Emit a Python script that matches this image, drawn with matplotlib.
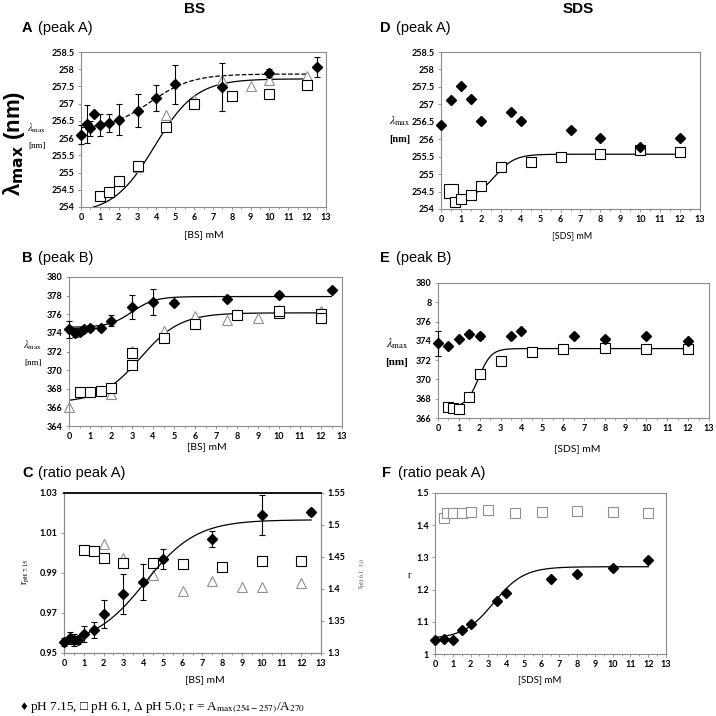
import matplotlib.pyplot as plt
import numpy as np

plt.rcParams['font.family'] = ['Liberation Sans', 'DejaVu Sans']
plt.rcParams['mathtext.fontset'] = 'stix'

# A: BS, peak A
a_xd = [0, 0.3, 0.5, 0.7, 1, 1.5, 2, 3, 4, 5, 7.5, 10, 12.5]
a_yd = [256.1, 256.4, 256.28, 256.7, 256.38, 256.44, 256.54, 256.8, 257.17, 257.56, 257.48, 257.88, 258.07]
a_ed = [0.27, 0.55, 0.23, 0, 0.33, 0.27, 0.45, 0.48, 0.37, 0.57, 0.69, 0.12, 0.29]
a_xs = [1, 1.5, 2, 3, 4.5, 6, 8, 10, 12]
a_ys = [254.31, 254.45, 254.76, 255.19, 256.31, 256.99, 257.23, 257.29, 257.54]
a_xt = [2, 3, 4.5, 6, 7.5, 9, 10, 12]
a_yt = [254.76, 255.15, 256.67, 257.12, 257.69, 257.51, 257.69, 257.8]
a_fit_d = [256.25, 257.86, 3.7, 1.1]
a_fit_s = [253.8, 257.72, 3.9, 1.1]

# B: BS, peak B
b_xd = [0, 0.3, 0.5, 0.7, 1, 1.5, 2, 3, 4, 5, 7.5, 10, 12.5]
b_yd = [374.4, 374.04, 374.11, 374.43, 374.57, 374.57, 375.3, 376.8, 377.3, 377.25, 377.68, 378.11, 378.6]
b_ed = [0.9, 0.5, 0.3, 0.3, 0.3, 0.3, 0.6, 1.3, 1.4, 0.3, 0.3, 0.3, 0]
b_xs = [0.5, 1, 1.5, 2, 3, 3, 4.5, 6, 8, 10, 10, 12, 12]
b_ys = [367.7, 367.7, 367.75, 368.1, 370.5, 371.8, 373.4, 375.0, 375.9, 376.1, 376.4, 376.0, 375.6]
b_xt = [0, 2, 3, 4.5, 6, 7.5, 9, 10, 12]
b_yt = [366.0, 367.4, 372.1, 374.2, 375.8, 375.4, 375.6, 376.5, 376.4]
b_fit_d = [374.6, 377.9, 3.0, 0.55]
b_fit_s = [366.5, 376.15, 3.4, 0.95]

# C: BS, ratio peak A
c_xd = [0, 0.3, 0.5, 0.7, 1, 1.5, 2, 3, 4, 5, 7.5, 10, 12.5]
c_yd = [0.9555, 0.9577, 0.9567, 0.9563, 0.9595, 0.9617, 0.9693, 0.9797, 0.9855, 0.9968, 1.0068, 1.019, 1.0205]
c_ed = [0.002, 0.003, 0.003, 0.002, 0.004, 0.004, 0.007, 0.01, 0.0088, 0.005, 0.004, 0.01, 0.0013]
c_xs = [1, 1.5, 2, 3, 4.5, 6, 8, 10, 12]
c_ys = [1.4604, 1.459, 1.449, 1.4406, 1.441, 1.4385, 1.4344, 1.4432, 1.4432]
c_xt = [2, 3, 4.5, 6, 7.5, 9, 10, 12]
c_yt = [1.4698, 1.4484, 1.4214, 1.3964, 1.4125, 1.4031, 1.4031, 1.41]
c_fit_d = [0.954, 1.0166, 4.1, 1.3]

# D: SDS, peak A
d_xd = [0, 0.5, 1, 1.5, 2, 3.5, 4, 6.5, 8, 10, 12]
d_yd = [256.42, 257.13, 257.52, 257.15, 256.51, 256.78, 256.51, 256.27, 256.03, 255.77, 256.03]
d_xs = [0.5, 0.7, 1, 1.5, 2, 3, 4.5, 6, 8, 10, 12]
d_ys = [254.52, 254.21, 254.3, 254.4, 254.65, 255.2, 255.36, 255.49, 255.59, 255.69, 255.63]
d_fit_s = [254.3, 255.57, 2.7, 0.5]

# E: SDS, peak B
e_xd = [0, 0.5, 1, 1.5, 2, 3.5, 4, 6.5, 8, 10, 12]
e_yd = [373.74, 373.5, 374.2, 374.7, 374.5, 374.5, 375.0, 374.5, 374.2, 374.5, 374.0]
e_ed = [1.3, 0, 0, 0.3, 0.35, 0, 0, 0, 0, 0, 0]
e_xs = [0.5, 0.7, 1, 1.5, 2, 3, 4.5, 6, 8, 10, 12]
e_ys = [367.1, 367.0, 366.9, 368.2, 370.6, 371.9, 372.8, 373.2, 373.3, 373.2, 373.2]
e_fit_s = [367.1, 373.2, 1.95, 0.3]

# F: SDS, ratio peak A
f_xd = [0, 0.5, 1, 1.5, 2, 3.5, 4, 6.5, 8, 10, 12]
f_yd = [1.0445, 1.0466, 1.0435, 1.0745, 1.0932, 1.1636, 1.1894, 1.2319, 1.2495, 1.2681, 1.2919]
f_xs = [0.5, 0.7, 1, 1.5, 2, 3, 4.5, 6, 8, 10, 12]
f_ys = [1.4224, 1.4379, 1.439, 1.4369, 1.44, 1.4472, 1.4369, 1.442, 1.4441, 1.442, 1.4379]
f_fit_d = [1.047, 1.271, 3.3, 0.85]

W = 716.0
GRAY = '#8a8a8a'
TICKFONT = ['Lato', 'DejaVu Sans']
SERIF = ['Liberation Serif', 'DejaVu Serif']


def px(x, y):
    return x / W, 1 - y / W


def box(l, t, r, b):
    return [l / W, 1 - b / W, (r - l) / W, (b - t) / W]


def boltz(p, x0, x1):
    x = np.linspace(x0, x1, 300)
    return x, p[1] + (p[0] - p[1]) / (1 + np.exp((x - p[2]) / p[3]))


def setup(ax, ylim, yticks, ylabels):
    ax.set_xlim(0, 13)
    ax.set_ylim(*ylim)
    ax.set_xticks(range(14), labels=[str(i) for i in range(14)], fontsize=6.5,
                  fontweight='bold', family=TICKFONT)
    ax.set_xticks(np.arange(0.5, 13, 1), minor=True)
    ax.set_yticks(yticks, labels=ylabels, fontsize=6.5, fontweight='bold', family=TICKFONT)
    for s in ax.spines.values():
        s.set_color(GRAY)
        s.set_linewidth(0.8)
    ax.tick_params(which='both', color=GRAY, pad=2, length=2.5, width=0.6)
    ax.tick_params(which='minor', length=1.5)


def diamonds(ax, x, y, err=None):
    if err is not None:
        ax.errorbar(x, y, yerr=err, fmt='none', ecolor='black', elinewidth=0.8,
                    capsize=2, capthick=0.8, clip_on=False, zorder=4)
    ax.plot(x, y, 'D', color='black', ms=5.2, clip_on=False, zorder=5)


def squares(ax, x, y, color='black', ms=6.8):
    ax.plot(x, y, 's', mfc='white', mec=color, mew=0.8, ms=ms, clip_on=False, zorder=3)


def triangles(ax, x, y):
    ax.plot(x, y, '^', mfc='white', mec='#909090', mew=0.8, ms=6.8, clip_on=False, zorder=2)


fig = plt.figure(figsize=(7.16, 7.16), dpi=100)

# A
ax = fig.add_axes(box(81, 52, 326, 207))
setup(ax, (254, 258.5), np.arange(254, 258.51, 0.5),
      ['254', '254.5', '255', '255.5', '256', '256.5', '257', '257.5', '258', '258.5'])
ax.plot(*boltz(a_fit_d, 0, 12), '--', color='black', lw=0.9, zorder=1)
ax.plot(*boltz(a_fit_s, 0, 12), '-', color='black', lw=0.9, zorder=1)
triangles(ax, a_xt, a_yt)
squares(ax, a_xs, a_ys)
diamonds(ax, a_xd, a_yd, a_ed)

# B
ax = fig.add_axes(box(69, 277, 342, 426))
setup(ax, (364, 380), range(364, 381, 2), [str(v) for v in range(364, 381, 2)])
ax.plot(*boltz(b_fit_d, 0, 12.5), '-', color='black', lw=0.9, zorder=1)
ax.plot(*boltz(b_fit_s, 0, 12), '-', color='black', lw=0.9, zorder=1)
triangles(ax, b_xt, b_yt)
squares(ax, b_xs, b_ys)
diamonds(ax, b_xd, b_yd, b_ed)

# C
ax = fig.add_axes(box(64, 493, 321, 653))
setup(ax, (0.95, 1.03), np.arange(0.95, 1.031, 0.02), ['0.95', '0.97', '0.99', '1.01', '1.03'])
ax.spines['top'].set_color('black')
ax.spines['top'].set_linewidth(1.3)
ax2 = ax.twinx()
ax2.set_ylim(1.3, 1.55)
ax2.set_yticks(np.arange(1.3, 1.551, 0.05), labels=['1.3', '1.35', '1.4', '1.45', '1.5', '1.55'],
               fontsize=6.5, fontweight='bold', family=TICKFONT)
for s in ['left', 'right', 'bottom']:
    ax2.spines[s].set_color(GRAY)
    ax2.spines[s].set_linewidth(0.8)
ax2.spines['top'].set_visible(False)
ax2.tick_params(color=GRAY, pad=2, length=2.5, width=0.6)
triangles(ax2, c_xt, c_yt)
squares(ax2, c_xs, c_ys)
ax.set_zorder(ax2.get_zorder() + 1)
ax.patch.set_visible(False)
ax.plot(*boltz(c_fit_d, 0, 12.5), '-', color='black', lw=0.9, zorder=1)
diamonds(ax, c_xd, c_yd, c_ed)

# D
ax = fig.add_axes(box(441, 52, 700, 209))
setup(ax, (254, 258.5), np.arange(254, 258.51, 0.5),
      ['254', '254.5', '255', '255.5', '256', '256.5', '257', '257.5', '258', '258.5'])
ax.plot(*boltz(d_fit_s, 0.5, 12), '-', color='black', lw=0.9, zorder=1)
squares(ax, d_xs[:1], d_ys[:1], ms=9.5)
squares(ax, d_xs[1:], d_ys[1:])
diamonds(ax, d_xd, d_yd)

# E
ax = fig.add_axes(box(438, 283, 709, 418))
setup(ax, (366, 380), range(366, 381, 2), ['366', '368', '370', '372', '374', '376', '8', '380'])
ax.plot(*boltz(e_fit_s, 0.9, 12), '-', color='black', lw=0.9, zorder=1)
squares(ax, e_xs, e_ys)
diamonds(ax, e_xd, e_yd, e_ed)

# F
ax = fig.add_axes(box(435, 493, 666, 654))
setup(ax, (1, 1.5), np.arange(1, 1.51, 0.1), ['1', '1.1', '1.2', '1.3', '1.4', '1.5'])
ax.plot(*boltz(f_fit_d, 0, 12), '-', color='black', lw=0.9, zorder=1)
squares(ax, f_xs, f_ys, color='#909090')
diamonds(ax, f_xd, f_yd)

# column titles and panel labels
fig.text(*px(195, 9), 'BS', fontsize=11, fontweight='bold', ha='center', va='center')
fig.text(*px(578, 9), 'SDS', fontsize=11, fontweight='bold', ha='center', va='center')
panels = [('A', '(peak A)', 22, 28), ('D', '(peak A)', 380, 28),
          ('B', '(peak B)', 22, 258), ('E', '(peak B)', 380, 258),
          ('C', '(ratio peak A)', 22, 473), ('F', '(ratio peak A)', 382, 473)]
for letter, name, x, y in panels:
    fig.text(*px(x, y), letter, fontsize=10.5, fontweight='bold', va='center')
    fig.text(*px(x + 16, y), name, fontsize=10.5, va='center')

# x labels
for x, y, t, fs in [(204, 235, '[BS] mM', 7.5), (572, 236, '[SDS] mM', 6.5),
                    (207, 447, '[BS] mM', 7.5), (577, 449, '[SDS] mM', 7.5),
                    (205, 680, '[BS] mM', 7.5), (540, 680, '[SDS] mM', 7)]:
    fig.text(*px(x, y), t, fontsize=fs, ha='center', va='center', family=TICKFONT)

# y labels
fig.text(*px(14, 143), '\u03bb$_{\\mathbf{max}}$ (nm)', fontsize=16, fontweight='bold',
         rotation=90, ha='center', va='center', math_fontfamily='dejavusans')
for x, y, fs, fw in [(37, 137, 6.5, 'normal'), (33, 354, 6.5, 'normal'),
                     (400, 130, 7.5, 'bold'), (397, 353, 8, 'bold')]:
    fig.text(*px(x, y - 9), r'$\lambda_{\rm max}$', fontsize=fs + 1, ha='center', va='center')
    fig.text(*px(x, y + 9), '[nm]', fontsize=fs, fontweight=fw, ha='center', va='center',
             family=SERIF)
fig.text(*px(26, 572), r'r$_{\rm pH\ 7.15}$', fontsize=7, rotation=90, ha='center', va='center',
         family=SERIF)
fig.text(*px(362, 573), r'r$_{\rm pH\ 6.1,\ 5.0}$', fontsize=6, rotation=90, ha='center', va='center',
         family=SERIF, color='#555555')
fig.text(*px(409, 575), 'r', fontsize=7, ha='center', va='center', family=SERIF)

fig.text(*px(20, 708), '\u2666 pH 7.15, \u25a1 pH 6.1, \u0394 pH 5.0; r = A$_{\\rm max(254-257)}$/A$_{270}$',
         fontsize=9.5, va='center', family=['Liberation Serif', 'DejaVu Sans'])

fig.savefig('out.png', dpi=100)
